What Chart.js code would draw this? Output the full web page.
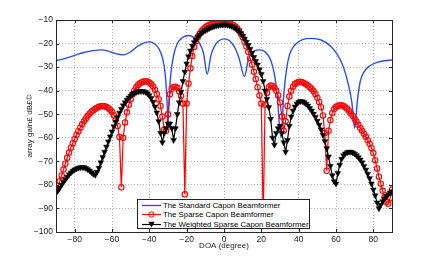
<!DOCTYPE html>
<html lang="en">
<head>
  <meta charset="UTF-8" />
  <title>Beamformer gain</title>
  <style>
    body { margin: 0; background: #fff; }
    #wrap { position: relative; width: 433px; height: 261px; }
    #legend { position: absolute; left: 137px; top: 199px; width: 173px; height: 30px; box-sizing: border-box;
      border: 1px solid #222; background: #fff; font: 7.8px "Liberation Sans", Arial, Helvetica, sans-serif; color: #000; }
    .row { position: absolute; left: 4px; height: 9px; line-height: 9px; white-space: nowrap; }
    .row svg { position: absolute; left: 0; top: 0; }
    .row span { position: absolute; left: 21px; top: 0; }
  </style>
</head>
<body>
<div id="wrap">
  <canvas id="chart" width="433" height="261"></canvas>
  <div id="legend">
    <div class="row" style="top:0.5px"><svg width="20" height="9"><line x1="0" y1="4.5" x2="19" y2="4.5" stroke="#2a4dff" stroke-width="1.4"/></svg><span>The Standard Capon Beamformer</span></div>
    <div class="row" style="top:10px"><svg width="20" height="9"><line x1="0" y1="4.5" x2="19" y2="4.5" stroke="#ff0000" stroke-width="1.2"/><circle cx="9.5" cy="4.5" r="2.7" fill="none" stroke="#ff0000" stroke-width="1"/></svg><span>The Sparse Capon Beamformer</span></div>
    <div class="row" style="top:19.5px"><svg width="20" height="9"><line x1="0" y1="4.5" x2="19" y2="4.5" stroke="#000" stroke-width="1.2"/><polygon points="6.3,1.8 12.7,1.8 9.5,7.6" fill="#000"/></svg><span>The Weighted Sparse Capon Beamformer</span></div>
  </div>
</div>

<script src="https://cdn.jsdelivr.net/npm/chart.js"></script>
<script>
  // angle grid of the sparse methods, 1 degree steps
  const doa = [];
  for (let a = -90; a <= 90; a++) doa.push(a);

  // standard Capon (no markers, read at the turning points)
  const blueDoa = [-90, -85, -80, -75, -70, -66, -62, -58, -54, -50, -46, -42, -40, -38, -35, -33, -31.5, -30.5, -30, -29.5,
    -28.5, -27, -25, -22, -19, -16, -13, -11, -9, -7, -5, -3, 0, 3, 6, 8, 11, 13, 15, 19,
    22, 25, 27, 28.5, 30.5, 32, 33.5, 35, 38, 42, 47, 52, 57, 61, 64, 66.5, 68.5, 70, 71.5, 73,
    75, 78, 82, 86, 90];
  const blueGain = [-27.2, -26.3, -25, -23.8, -23, -22.7, -23.2, -24.3, -24.8, -23.5, -21, -19.5, -19.3, -19.7, -22, -26, -33, -45, -55, -45,
    -33, -25, -20, -17.3, -16.6, -17.5, -20, -24, -33, -25, -21, -19, -18, -18.8, -22, -26, -34, -27, -24, -22.7,
    -23.5, -27, -33, -42, -60, -42, -31, -25, -20.5, -18.3, -17.8, -18.5, -21, -25, -30, -37, -45, -56, -44, -36,
    -32, -29.5, -28, -27.3, -27];

  // sparse Capon, -90..90
  const redGain = [
    -82.5, -80.5, -78.5, -76, -73.5, -71, -68.5, -66.3, -64.2, -62.3,
    -60.5, -58.8, -57.2, -55.7, -54.3, -53, -51.8, -50.7, -49.8, -49,
    -48.3, -47.7, -47.2, -46.8, -46.6, -46.5, -46.6, -46.9, -47.4, -48.1,
    -49.1, -50.4, -52.3, -55, -59.7, -81, -60, -53.5, -49.2, -46,
    -43.5, -41.5, -39.9, -38.6, -37.6, -36.9, -36.4, -36.1, -36, -36.1,
    -36.5, -37.2, -38.2, -39.6, -41.4, -43.7, -46.5, -51, -56.5, -57,
    -50, -41.5, -39.2, -38.4, -38.3, -38.8, -40.2, -42.3, -45.5, -84,
    -45.5, -37, -30.5, -25.3, -21.5, -19, -17.2, -15.8, -14.7, -13.8,
    -13.1, -12.5, -12.1, -11.8, -11.6, -11.4, -11.3, -11.2, -11.2, -11.2,
    -11.2,
    -11.2, -11.3, -11.5, -11.8, -12.2, -12.8, -13.5, -14.5, -15.8, -17.3,
    -19.2, -21.3, -23.5, -26.2, -29, -32, -35, -38.5, -42, -45.5,
    -95, -46, -41, -38.5, -37.8, -38, -38.8, -40, -42, -45,
    -51, -57, -53, -46.5, -42.5, -40, -38.3, -37.2, -36.6, -36.3,
    -36.2, -36.4, -36.8, -37.3, -37.8, -38.5, -39.3, -40.3, -41.5, -43,
    -44.8, -47, -50.5, -58, -74, -57, -52.5, -49.5, -47.8, -46.9,
    -46.4, -46.2, -46.2, -46.5, -47, -47.7, -48.6, -49.7, -50.8, -52,
    -53.2, -54.5, -55.8, -57, -58.3, -59.6, -61, -62.5, -64.3, -66.5,
    -69.5, -73, -76.5, -79.5, -82.5, -85.3, -87.3, -88, -85.5, -82];

  // weighted sparse Capon, -90..90
  const blackGain = [
    -83.5, -82.5, -81.3, -80, -78.8, -77.7, -76.6, -75.6, -74.8, -74.1,
    -73.5, -73.1, -72.8, -72.6, -72.5, -72.6, -72.9, -73.4, -74, -74.7,
    -75.4, -75.8, -74.5, -72.8, -70.5, -68.2, -66, -63.8, -61.6, -59.5,
    -57.4, -55.2, -53.2, -51.2, -49.4, -47.8, -46.3, -45, -43.9, -43,
    -42.2, -41.5, -41, -40.6, -40.4, -40.2, -40.2, -40.3, -40.6, -41.2,
    -42, -43.2, -44.8, -46.8, -49.3, -53, -58, -62, -58, -56,
    -54, -54, -56, -61, -56, -50, -45, -40.5, -36, -32,
    -28.5, -25.5, -23, -21, -19.5, -18.3, -17.2, -16.3, -15.5, -14.9,
    -14.4, -14, -13.6, -13.2, -12.9, -12.6, -12.4, -12.2, -12.1, -12,
    -12,
    -12, -12.1, -12.3, -12.6, -13, -13.5, -14.1, -14.8, -15.7, -16.8,
    -18, -19.3, -20.7, -22.3, -24, -25.8, -27.5, -29, -31, -33,
    -36, -40, -43.5, -47, -52, -60, -63, -58, -56, -55,
    -58, -62, -66, -61, -55, -51, -48.5, -46.8, -45.5, -44.8,
    -44.5, -44.6, -45, -45.6, -46.4, -47.4, -48.5, -49.8, -51.2, -52.8,
    -54.5, -56.5, -58.8, -61.5, -64.5, -68, -72, -76, -78.5, -79.5,
    -75, -71.5, -69, -67.5, -66.7, -66.2, -66, -66, -66.3, -66.8,
    -67.5, -68.3, -69.3, -70.5, -72, -73.6, -75.3, -77.2, -79.5, -82,
    -84.5, -87.5, -90, -88.5, -87, -85.8, -84.8, -84, -83.3, -82.8];

  const seriesNames = ['The Standard Capon Beamformer', 'The Sparse Capon Beamformer', 'The Weighted Sparse Capon Beamformer'];
  const xTicks = [-80, -60, -40, -20, 0, 20, 40, 60, 80];
  const yTicks = [-100, -90, -80, -70, -60, -50, -40, -30, -20, -10];

  const fam = '"Liberation Sans", Arial, Helvetica, sans-serif';
  const minus = v => String(v).replace('-', '\u2212');

  // matlab style box with inward ticks
  const boxPlugin = {
    id: 'box',
    afterDatasetsDraw(chart) {
      const {ctx, chartArea: a, scales} = chart;
      ctx.save();
      ctx.strokeStyle = '#262626';
      ctx.lineWidth = 1;
      ctx.beginPath();
      xTicks.forEach(v => {
        const x = Math.round(scales.x.getPixelForValue(v)) + 0.5;
        ctx.moveTo(x, a.bottom); ctx.lineTo(x, a.bottom - 3);
        ctx.moveTo(x, a.top); ctx.lineTo(x, a.top + 3);
      });
      yTicks.forEach(v => {
        const y = Math.round(scales.y.getPixelForValue(v)) + 0.5;
        ctx.moveTo(a.left, y); ctx.lineTo(a.left + 3, y);
        ctx.moveTo(a.right, y); ctx.lineTo(a.right - 3, y);
      });
      ctx.stroke();
      ctx.strokeRect(Math.round(a.left) + 0.5, Math.round(a.top) + 0.5, Math.round(a.right - a.left), Math.round(a.bottom - a.top));
      ctx.restore();
    }
  };

  const toPts = (xs, ys) => xs.map((x, i) => ({x: x, y: ys[i]}));

  new Chart(document.getElementById('chart').getContext('2d'), {
    type: 'line',
    data: {
      datasets: [
        {label: seriesNames[0], data: toPts(blueDoa, blueGain), borderColor: '#2a4dff', borderWidth: 1.4,
         pointRadius: 0, cubicInterpolationMode: 'monotone', order: 3},
        {label: seriesNames[1], data: toPts(doa, redGain), borderColor: '#ff0000', borderWidth: 1.2,
         pointStyle: 'circle', pointRadius: 2.7, pointBorderWidth: 1.1, pointBorderColor: '#ff0000',
         pointBackgroundColor: 'rgba(255,255,255,0)', order: 2},
        {label: seriesNames[2], data: toPts(doa, blackGain), borderColor: '#000', borderWidth: 1.2,
         pointStyle: 'triangle', pointRotation: 180, pointRadius: 3.3, pointBorderWidth: 0.5,
         pointBorderColor: '#000', pointBackgroundColor: '#000', order: 1}
      ]
    },
    options: {
      responsive: false,
      animation: false,
      layout: {padding: {top: 20, right: 41, left: 0, bottom: 0}},
      plugins: {legend: {display: false}, tooltip: {enabled: false}},
      scales: {
        x: {
          type: 'linear', min: -90, max: 90,
          afterBuildTicks: s => { s.ticks = xTicks.map(v => ({value: v})); },
          afterFit: s => { s.height = 29; },
          grid: {color: '#b4b4b4', drawTicks: false},
          border: {display: false, dash: [1, 2]},
          ticks: {padding: 3, color: '#222', font: {family: fam, size: 8.5}, callback: v => minus(v)},
          title: {display: true, text: 'DOA (degree)', color: '#222', font: {family: fam, size: 8}, padding: {top: 0, bottom: 10}}
        },
        y: {
          min: -100, max: -10,
          afterBuildTicks: s => { s.ticks = yTicks.map(v => ({value: v})); },
          afterFit: s => { s.width = 56; },
          grid: {color: '#b4b4b4', drawTicks: false},
          border: {display: false, dash: [1, 2]},
          ticks: {padding: 3, color: '#222', font: {family: fam, size: 8.5}, callback: v => minus(v)},
          title: {display: true, text: 'array gain£¨dB£©', color: '#222', font: {family: fam, size: 8}, padding: {top: 25, bottom: 0}}
        }
      }
    },
    plugins: [boxPlugin]
  });
</script>
</body>
</html>
